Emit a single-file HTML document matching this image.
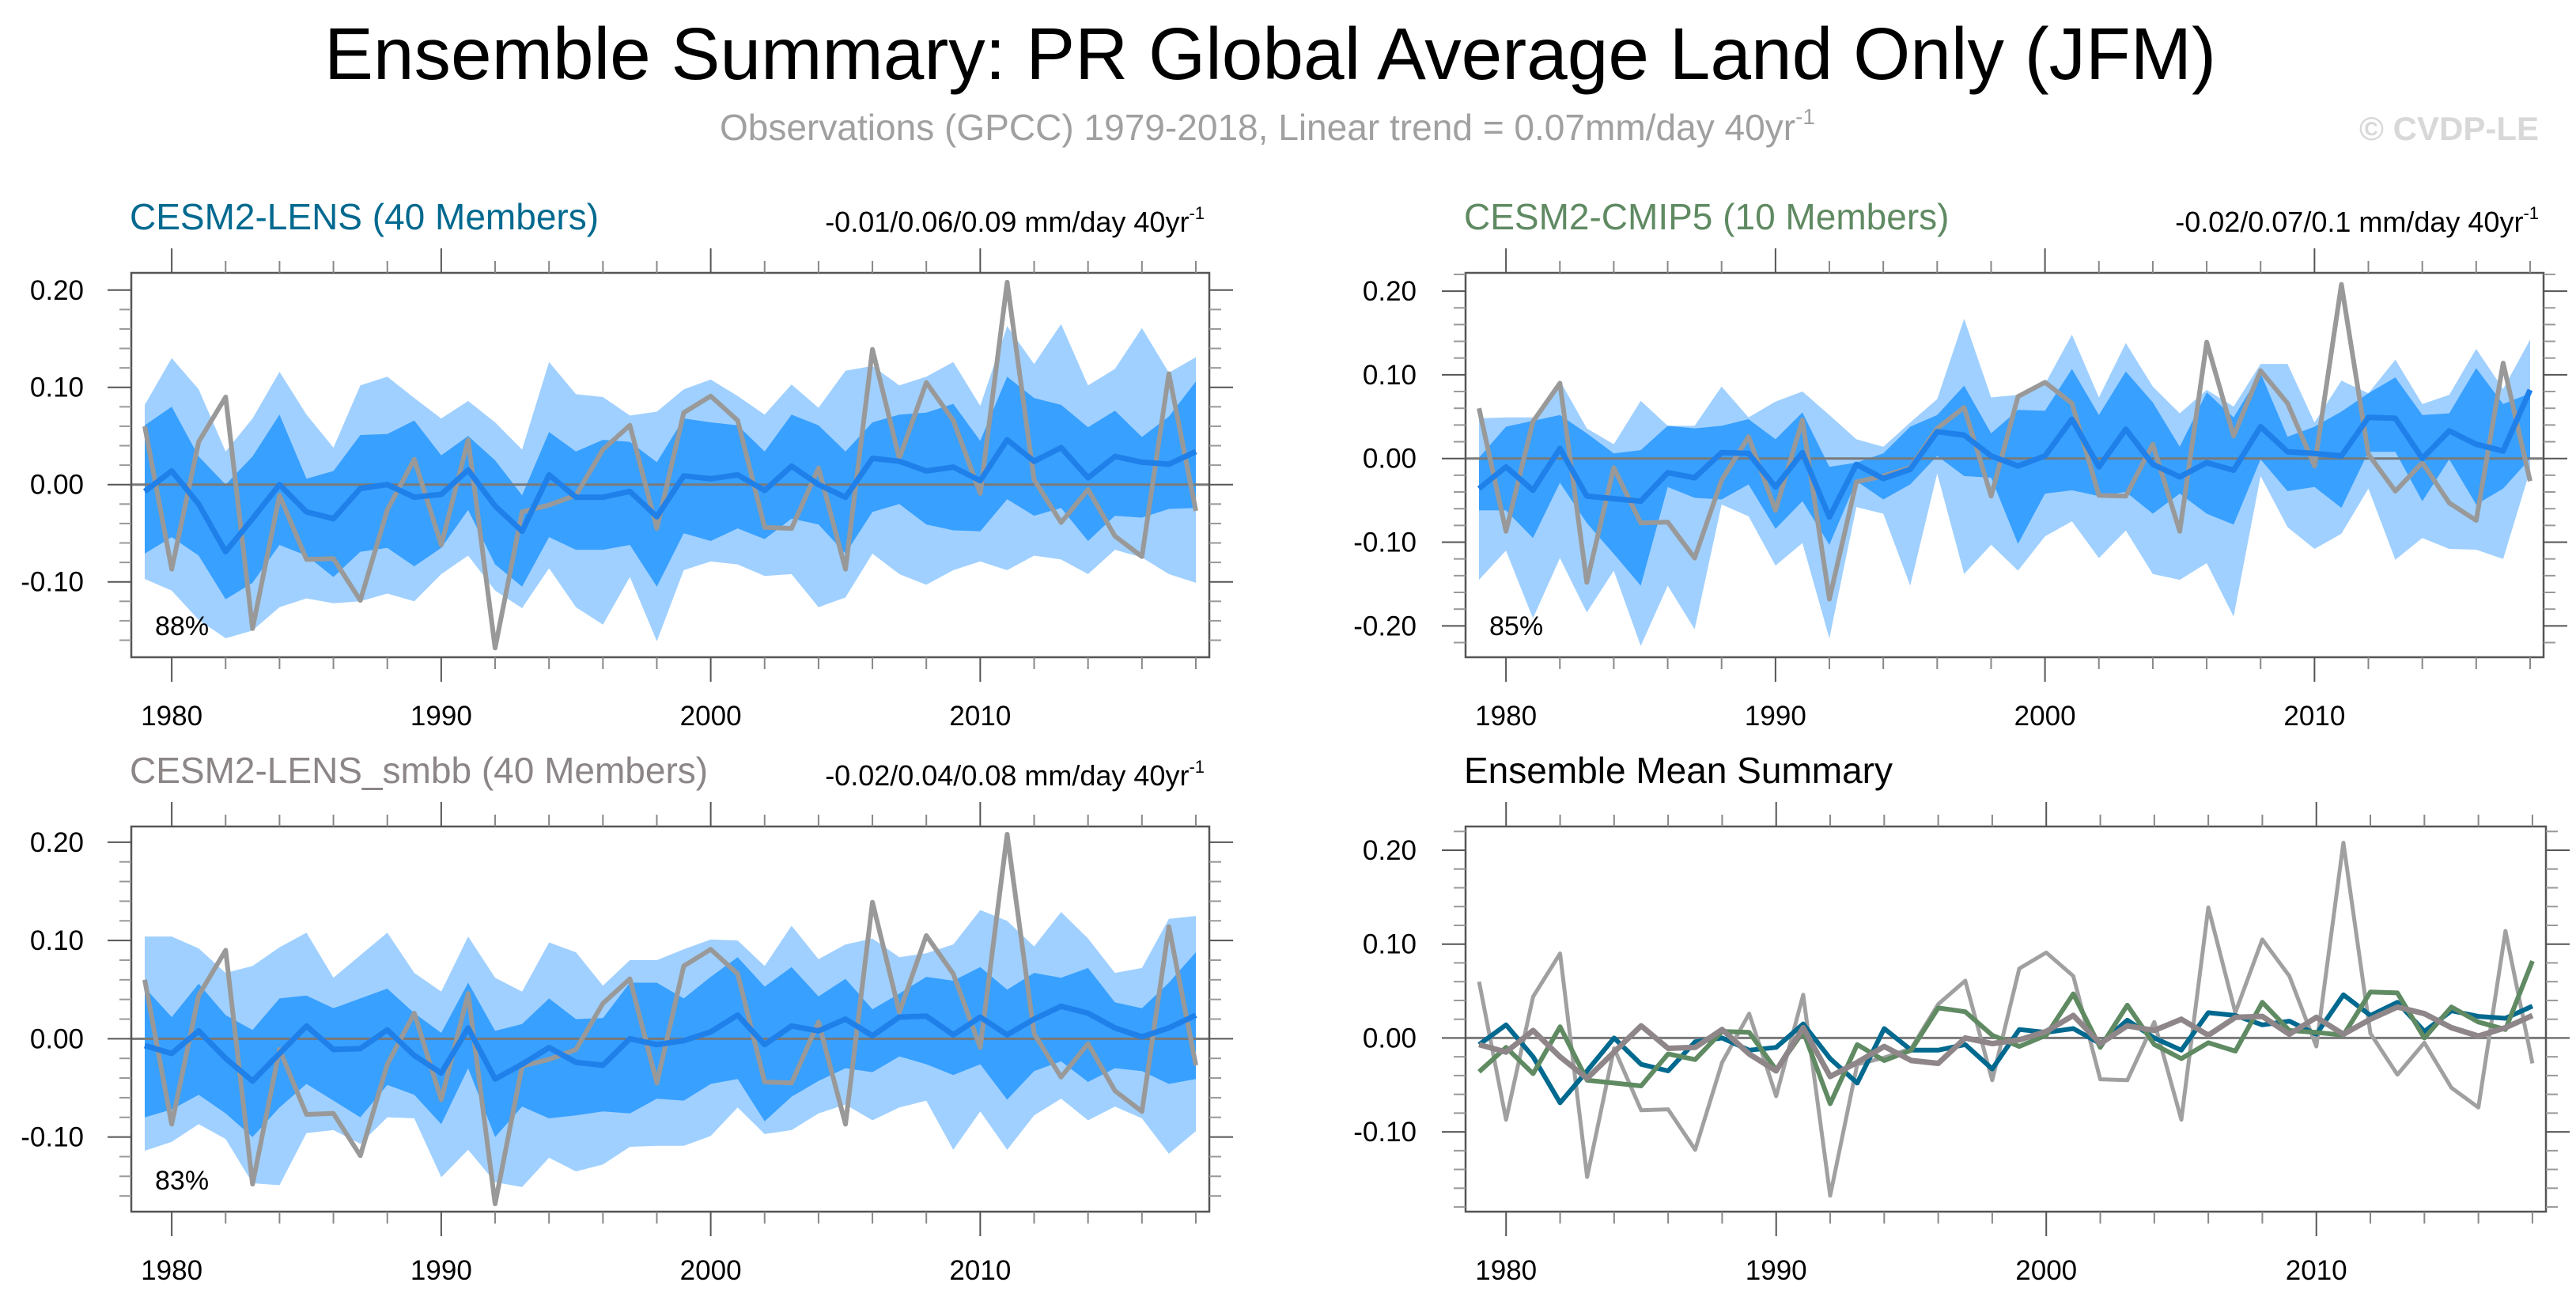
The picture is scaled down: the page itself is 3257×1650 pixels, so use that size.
<!DOCTYPE html>
<html><head><meta charset="utf-8">
<style>
html,body{margin:0;padding:0;background:#fff;}
svg{display:block;font-family:"Liberation Sans",Arial,sans-serif;}
</style></head>
<body>
<svg id="fig" xmlns="http://www.w3.org/2000/svg" width="3257" height="1650" viewBox="0 0 3257 1650">
<text x="1606" y="100" font-size="93" text-anchor="middle" textLength="2392" lengthAdjust="spacingAndGlyphs" fill="#000">Ensemble Summary: PR Global Average Land Only (JFM)</text>
<text x="910" y="177" font-size="46" textLength="1385" lengthAdjust="spacingAndGlyphs" fill="#a0a0a0">Observations (GPCC) 1979-2018, Linear trend = 0.07mm/day 40yr<tspan font-size="28" dy="-20">-1</tspan></text>
<text x="3210" y="177" font-size="42" font-weight="bold" text-anchor="end" fill="#d8d8d8">© CVDP-LE</text>
<g id="panels"></g>
</svg>
<script>
const years = [];
for (let y = 1979; y <= 2018; y++) years.push(y);

const obs = [0.060,-0.087,0.044,0.090,-0.148,-0.011,-0.077,-0.076,-0.119,-0.026,0.026,-0.062,0.046,-0.168,-0.028,-0.021,-0.011,0.036,0.061,-0.045,0.074,0.091,0.066,-0.044,-0.045,0.017,-0.087,0.139,0.027,0.105,0.066,-0.009,0.208,0.005,-0.039,-0.005,-0.053,-0.074,0.114,-0.027];

const lensMean = [-0.007,0.014,-0.020,-0.069,-0.035,0.000,-0.028,-0.035,-0.004,0.000,-0.013,-0.010,0.015,-0.022,-0.048,0.010,-0.013,-0.013,-0.007,-0.033,0.009,0.006,0.010,-0.006,0.019,0.000,-0.013,0.027,0.024,0.014,0.018,0.004,0.046,0.024,0.038,0.007,0.029,0.023,0.021,0.034];
const lensHiOuter = [0.082,0.130,0.098,0.034,0.068,0.116,0.072,0.038,0.102,0.111,0.089,0.068,0.086,0.064,0.036,0.126,0.093,0.090,0.071,0.075,0.098,0.108,0.091,0.072,0.103,0.079,0.117,0.122,0.102,0.111,0.126,0.081,0.163,0.124,0.165,0.102,0.119,0.161,0.115,0.131];
const lensLoOuter = [-0.097,-0.109,-0.139,-0.158,-0.150,-0.126,-0.117,-0.122,-0.120,-0.112,-0.120,-0.092,-0.073,-0.109,-0.127,-0.086,-0.126,-0.144,-0.095,-0.161,-0.088,-0.079,-0.082,-0.094,-0.092,-0.126,-0.116,-0.071,-0.092,-0.103,-0.088,-0.079,-0.088,-0.073,-0.077,-0.092,-0.067,-0.075,-0.092,-0.101];
const lensHiInner = [0.061,0.080,0.029,0.000,0.029,0.072,0.006,0.014,0.051,0.052,0.066,0.030,0.050,0.025,-0.011,0.054,0.034,0.046,0.044,0.023,0.068,0.064,0.061,0.034,0.072,0.061,0.034,0.064,0.072,0.074,0.083,0.045,0.111,0.089,0.082,0.059,0.076,0.049,0.070,0.106];
const lensLoInner = [-0.071,-0.054,-0.073,-0.118,-0.101,-0.062,-0.073,-0.095,-0.069,-0.065,-0.084,-0.065,-0.026,-0.082,-0.105,-0.054,-0.067,-0.067,-0.062,-0.105,-0.050,-0.058,-0.045,-0.056,-0.035,-0.041,-0.071,-0.028,-0.020,-0.041,-0.047,-0.048,-0.015,-0.032,-0.024,-0.058,-0.032,-0.034,-0.025,-0.024];

const cmipMean = [-0.036,-0.010,-0.038,0.012,-0.045,-0.048,-0.051,-0.017,-0.023,0.007,0.006,-0.034,0.007,-0.070,-0.007,-0.024,-0.013,0.032,0.028,0.003,-0.009,0.003,0.047,-0.010,0.035,-0.007,-0.022,-0.005,-0.014,0.038,0.008,0.006,0.003,0.049,0.048,0.000,0.033,0.017,0.009,0.082];
const cmipHiOuter = [0.048,0.049,0.049,0.093,0.036,0.017,0.069,0.039,0.039,0.086,0.049,0.068,0.080,0.052,0.023,0.014,0.043,0.071,0.167,0.073,0.076,0.089,0.148,0.073,0.138,0.086,0.054,0.082,0.062,0.113,0.113,0.043,0.093,0.078,0.118,0.065,0.076,0.131,0.083,0.142];
const cmipLoOuter = [-0.145,-0.110,-0.191,-0.119,-0.184,-0.134,-0.224,-0.152,-0.204,-0.055,-0.069,-0.128,-0.101,-0.215,-0.058,-0.066,-0.152,-0.018,-0.138,-0.103,-0.134,-0.093,-0.075,-0.119,-0.086,-0.138,-0.145,-0.125,-0.189,-0.021,-0.082,-0.108,-0.090,-0.036,-0.121,-0.095,-0.108,-0.109,-0.120,-0.014];
const cmipHiInner = [0.001,0.038,0.045,0.052,0.030,0.006,0.010,0.039,0.036,0.039,0.047,0.023,0.055,-0.010,-0.005,0.006,0.038,0.052,0.087,0.030,0.058,0.057,0.107,0.052,0.104,0.067,0.014,0.079,0.049,0.102,0.026,0.038,0.056,0.078,0.097,0.052,0.054,0.108,0.065,0.078];
const cmipLoInner = [-0.062,-0.062,-0.095,-0.029,-0.077,-0.114,-0.152,-0.034,-0.047,-0.049,-0.031,-0.084,-0.051,-0.103,-0.027,-0.049,-0.031,0.003,-0.021,-0.023,-0.102,-0.042,-0.038,-0.045,-0.040,-0.066,-0.042,-0.066,-0.079,-0.001,-0.039,-0.034,-0.059,0.008,0.008,-0.051,-0.001,-0.055,-0.036,0.000];

const smbbMean = [-0.007,-0.015,0.008,-0.020,-0.043,-0.015,0.013,-0.011,-0.010,0.009,-0.017,-0.035,0.011,-0.041,-0.026,-0.009,-0.024,-0.027,0.000,-0.006,-0.002,0.007,0.024,-0.006,0.013,0.008,0.020,0.003,0.022,0.023,0.004,0.022,0.004,0.020,0.033,0.026,0.011,0.002,0.011,0.024];
const smbbHiOuter = [0.104,0.104,0.092,0.067,0.074,0.093,0.108,0.062,0.085,0.108,0.067,0.048,0.104,0.062,0.048,0.098,0.088,0.054,0.080,0.080,0.091,0.101,0.100,0.074,0.115,0.081,0.096,0.102,0.083,0.087,0.096,0.131,0.120,0.094,0.129,0.102,0.067,0.072,0.122,0.125];
const smbbLoOuter = [-0.114,-0.105,-0.087,-0.102,-0.147,-0.149,-0.096,-0.093,-0.107,-0.080,-0.081,-0.141,-0.113,-0.146,-0.151,-0.121,-0.135,-0.128,-0.110,-0.109,-0.109,-0.099,-0.070,-0.097,-0.093,-0.076,-0.067,-0.083,-0.070,-0.063,-0.113,-0.074,-0.113,-0.078,-0.061,-0.083,-0.069,-0.081,-0.117,-0.094];
const smbbHiInner = [0.052,0.022,0.056,0.024,0.009,0.041,0.044,0.031,0.041,0.051,0.026,0.006,0.057,0.008,0.015,0.041,0.020,0.021,0.057,0.057,0.041,0.063,0.083,0.053,0.073,0.043,0.061,0.030,0.046,0.063,0.059,0.073,0.050,0.067,0.062,0.072,0.037,0.031,0.057,0.088];
const smbbLoInner = [-0.080,-0.072,-0.057,-0.076,-0.100,-0.070,-0.046,-0.063,-0.080,-0.047,-0.057,-0.087,-0.030,-0.100,-0.069,-0.081,-0.078,-0.074,-0.076,-0.061,-0.063,-0.046,-0.041,-0.084,-0.059,-0.043,-0.030,-0.034,-0.018,-0.026,-0.037,-0.026,-0.062,-0.033,-0.023,-0.044,-0.030,-0.033,-0.046,-0.041];

const xTickYears = [1980, 1990, 2000, 2010];
const yTicksA = [-0.10, 0.00, 0.10, 0.20];
const yTicksB = [-0.20, -0.10, 0.00, 0.10, 0.20];

const NS = "http://www.w3.org/2000/svg";
const root = document.getElementById("panels");
function mk(tag, attrs, parent) {
  const e = document.createElementNS(NS, tag);
  for (const k in attrs) e.setAttribute(k, attrs[k]);
  (parent || root).appendChild(e);
  return e;
}

const panels = [
  {key:"lens", x0:166, x1:1529, y0:345, y1:831, ymin:-0.1775, ymax:0.2177, ticks:yTicksA, labelX:106,
   title:"CESM2-LENS (40 Members)", titleColor:"#00698f", trend:"-0.01/0.06/0.09 mm/day 40yr", pct:"88%",
   mean:lensMean, hiO:lensHiOuter, loO:lensLoOuter, hiI:lensHiInner, loI:lensLoInner},
  {key:"cmip", x0:1853, x1:3216, y0:345, y1:831, ymin:-0.2375, ymax:0.2218, ticks:yTicksB, labelX:1791,
   title:"CESM2-CMIP5 (10 Members)", titleColor:"#5f8a62", trend:"-0.02/0.07/0.1 mm/day 40yr", pct:"85%",
   mean:cmipMean, hiO:cmipHiOuter, loO:cmipLoOuter, hiI:cmipHiInner, loI:cmipLoInner},
  {key:"smbb", x0:166, x1:1529, y0:1045, y1:1532, ymin:-0.176, ymax:0.216, ticks:yTicksA, labelX:106,
   title:"CESM2-LENS_smbb (40 Members)", titleColor:"#8c8687", trend:"-0.02/0.04/0.08 mm/day 40yr", pct:"83%",
   mean:smbbMean, hiO:smbbHiOuter, loO:smbbLoOuter, hiI:smbbHiInner, loI:smbbLoInner},
  {key:"summary", x0:1853, x1:3219, y0:1045, y1:1532, ymin:-0.185, ymax:0.2253, ticks:yTicksA, labelX:1791,
   title:"Ensemble Mean Summary", titleColor:"#000", summary:true}
];

function fmt(v){ return v.toFixed(2); }

panels.forEach(p => {
  const g = mk("g", {});
  
  
  const xs = yr => p.x0 + (yr - 1978.5) / 40 * (p.x1 - p.x0);
  const ys = v => p.y1 - (v - p.ymin) / (p.ymax - p.ymin) * (p.y1 - p.y0);
  const pts = arr => arr.map((v,i) => xs(years[i]).toFixed(1) + "," + ys(v).toFixed(1)).join(" ");
  const band = (hi, lo) => pts(hi) + " " + lo.map((v,i)=>[xs(years[i]),ys(v)]).reverse().map(a=>a[0].toFixed(1)+","+a[1].toFixed(1)).join(" ");

  const t = mk("text", {x:p.x0 - 2, y:p.y0 - 55, "font-size":46, fill:p.titleColor}, g);
  t.textContent = p.title;
  
  
  if (p.trend) {
    const tr = mk("text", {x:p.x1 - 6, y:p.y0 - 52, "font-size":36, "text-anchor":"end", fill:"#000"}, g);
    tr.textContent = p.trend;
    const sup = mk("tspan", {"font-size":22, dy:-16}, tr);
    sup.textContent = "-1";
    
    
  }

  if (!p.summary) {
    const bo = mk("polygon", {points:band(p.hiO, p.loO), fill:"#a0d0ff"}, g);
    
    
    const bi = mk("polygon", {points:band(p.hiI, p.loI), fill:"#38a0ff"}, g);
    
    
  }

  const z = mk("line", {x1:p.x0, x2:p.x1, y1:ys(0), y2:ys(0), stroke:"#7a7a7a", "stroke-width":3}, g);
  
  

  if (!p.summary) {
    const ob = mk("polyline", {points:pts(obs), fill:"none", stroke:"#999999", "stroke-width":6, "stroke-linejoin":"round"}, g);
    
    
    const mn = mk("polyline", {points:pts(p.mean), fill:"none", stroke:"#1f80ea", "stroke-width":7, "stroke-linejoin":"round"}, g);
    
    
    const pc = mk("text", {x:p.x0 + 30, y:p.y1 - 28, "font-size":34, fill:"#000"}, g);
    pc.textContent = p.pct;
    
    
  } else {
    const ob = mk("polyline", {points:pts(obs), fill:"none", stroke:"#a0a0a0", "stroke-width":5, "stroke-linejoin":"round"}, g);
    
    
    const l1 = mk("polyline", {points:pts(lensMean), fill:"none", stroke:"#00698f", "stroke-width":6, "stroke-linejoin":"round"}, g);
    
    
    const l2 = mk("polyline", {points:pts(cmipMean), fill:"none", stroke:"#5f8a62", "stroke-width":6, "stroke-linejoin":"round"}, g);
    
    
    const l3 = mk("polyline", {points:pts(smbbMean), fill:"none", stroke:"#8e8688", "stroke-width":7, "stroke-linejoin":"round"}, g);
    
    
  }

  const fr = mk("rect", {x:p.x0, y:p.y0, width:p.x1-p.x0, height:p.y1-p.y0, fill:"none", stroke:"#555", "stroke-width":2.5}, g);
  
  

  for (let yr = 1980; yr <= 2018; yr += 2) {
    const major = yr % 10 === 0;
    const len = major ? 31 : 15;
    const x = xs(yr);
    mk("line", {x1:x, x2:x, y1:p.y0, y2:p.y0 - len, stroke:major?"#555":"#888", "stroke-width":2}, g);
    mk("line", {x1:x, x2:x, y1:p.y1, y2:p.y1 + len, stroke:major?"#555":"#888", "stroke-width":2}, g);
  }
  xTickYears.forEach(yr => {
    const tl = mk("text", {x:xs(yr), y:p.y1 + 86, "font-size":35, "text-anchor":"middle", fill:"#000"}, g);
    tl.textContent = yr;
    
    
  });

  for (let k = -30; k <= 30; k++) {
    const v = k * 0.02;
    if (v < p.ymin || v > p.ymax) continue;
    const major = k % 5 === 0;
    const len = major ? 30 : 15;
    const y = ys(v);
    mk("line", {x1:p.x0, x2:p.x0 - len, y1:y, y2:y, stroke:major?"#555":"#999", "stroke-width":2}, g);
    mk("line", {x1:p.x1, x2:p.x1 + len, y1:y, y2:y, stroke:major?"#555":"#999", "stroke-width":2}, g);
  }
  p.ticks.forEach(v => {
    const yl = mk("text", {x:p.labelX, y:ys(v) + 12, "font-size":35, "text-anchor":"end", fill:"#000"}, g);
    yl.textContent = fmt(v);
    
    
  });
});
</script>
</body></html>
